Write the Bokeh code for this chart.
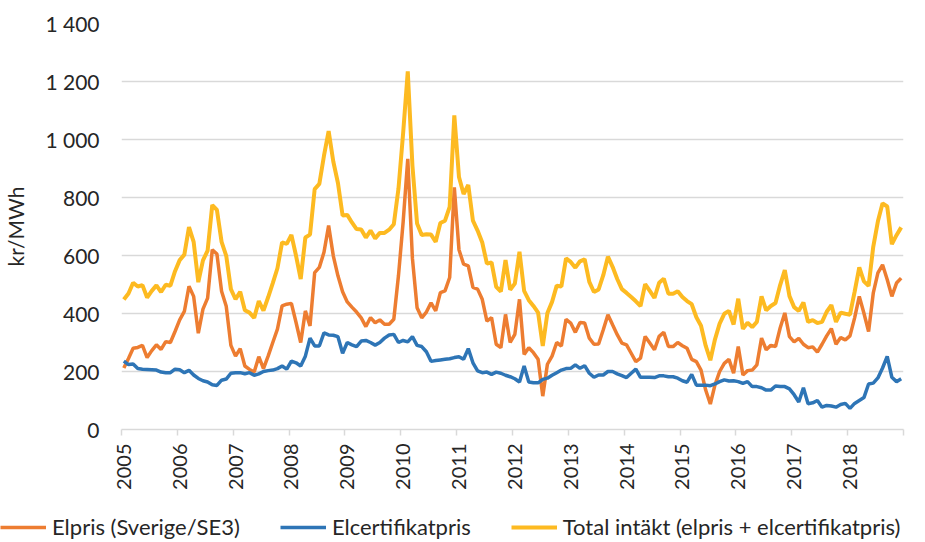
from math import pi
from bokeh.plotting import figure
from bokeh.models import Range1d, FixedTicker, Legend, LegendItem, ColumnDataSource
from bokeh.embed import file_html
from bokeh.resources import INLINE

# ---- data (monthly, Jan 2005 - Dec 2018), kr/MWh ----
year_labels = [str(y) for y in range(2005, 2019)]

elpris = [
    212, 245, 280, 283, 290, 248, 272, 292, 276, 303, 300, 338,   # 2005
    378, 407, 494, 459, 332, 415, 453, 620, 605, 477, 425, 290,   # 2006
    253, 279, 219, 207, 198, 251, 210, 253, 300, 346, 426, 432,   # 2007
    435, 369, 300, 409, 357, 541, 559, 611, 703, 599, 530, 475,   # 2008
    440, 422, 405, 385, 355, 386, 368, 378, 363, 363, 380, 530,   # 2009
    714, 933, 590, 420, 385, 405, 437, 409, 472, 478, 524, 835,   # 2010
    620, 570, 564, 490, 484, 449, 374, 386, 294, 282, 397, 300,   # 2011
    328, 449, 259, 282, 265, 242, 115, 225, 253, 300, 288, 380,   # 2012
    367, 335, 369, 367, 315, 294, 295, 344, 396, 361, 327, 298,   # 2013
    292, 263, 234, 246, 321, 298, 275, 321, 335, 286, 286, 300,   # 2014
    289, 280, 242, 234, 205, 136, 88, 154, 200, 228, 242, 194,    # 2015
    286, 188, 203, 205, 223, 315, 275, 290, 286, 350, 402, 320,   # 2016
    302, 314, 294, 282, 285, 267, 294, 323, 348, 294, 317, 309,   # 2017
    323, 385, 459, 401, 338, 470, 540, 568, 517, 459, 505, 522,   # 2018
]

elcert = [
    236, 224, 226, 210, 208, 207, 206, 205, 198, 196, 196, 208,   # 2005
    206, 196, 204, 188, 176, 168, 164, 154, 152, 170, 174, 194,   # 2006
    196, 196, 192, 196, 187, 192, 200, 203, 205, 210, 219, 208,   # 2007
    236, 230, 219, 253, 315, 288, 288, 333, 326, 325, 320, 263,   # 2008
    300, 292, 286, 305, 307, 300, 291, 300, 315, 326, 328, 300,   # 2009
    307, 302, 320, 290, 286, 268, 235, 238, 240, 242, 244, 248,   # 2010
    251, 242, 279, 230, 202, 196, 198, 190, 198, 194, 187, 182,   # 2011
    175, 164, 219, 164, 161, 161, 173, 177, 187, 196, 205, 210,   # 2012
    211, 223, 211, 220, 194, 180, 188, 188, 200, 200, 192, 186,   # 2013
    179, 194, 208, 180, 180, 180, 179, 185, 185, 182, 182, 177,   # 2014
    168, 163, 190, 153, 153, 153, 151, 157, 165, 171, 167, 168,   # 2015
    165, 159, 165, 148, 148, 144, 136, 136, 150, 148, 148, 140,   # 2016
    120, 95, 144, 89, 92, 100, 77, 83, 81, 77, 86, 90,            # 2017
    73, 90, 100, 110, 157, 160, 178, 212, 252, 180, 165, 175,     # 2018
]

y_ticks = [0, 200, 400, 600, 800, 1000, 1200, 1400]
y_tick_labels = ["0", "200", "400", "600", "800", "1 000", "1 200", "1 400"]

series_names = ["Elpris (Sverige/SE3)", "Elcertifikatpris",
                "Total intäkt (elpris + elcertifikatpris)"]
series_cols = ["elpris", "elcert", "total"]

# ---- build ----
n = len(elpris)
total = [a + b for a, b in zip(elpris, elcert)]
src = ColumnDataSource(dict(x=[i + 0.5 for i in range(n)],
                            elpris=elpris, elcert=elcert, total=total))

FONT = "Lato"
TXT = "#262626"
GRID = "#D9D9D9"
colors = ["#ED7D31", "#2E75B6", "#FDBA21"]
widths = [3.5, 3.5, 4]

p = figure(width=909, height=492, output_backend="svg", toolbar_location=None,
           x_range=Range1d(0, n), y_range=Range1d(0, 1400),
           min_border_left=114, min_border_right=6,
           min_border_top=23, min_border_bottom=63)

for col, c, w in zip(series_cols, colors, widths):
    p.line("x", col, source=src, line_color=c, line_width=w)

# x axis
xa = p.xaxis[0]
xa.ticker = FixedTicker(ticks=[12 * k + 0.5 for k in range(len(year_labels))],
                        minor_ticks=[12 * k for k in range(len(year_labels) + 1)])
xa.major_label_overrides = {12 * k + 0.5: lab for k, lab in enumerate(year_labels)}
xa.major_label_orientation = pi / 2
xa.major_tick_out = 0
xa.major_tick_in = 0
xa.minor_tick_out = 6
xa.minor_tick_in = 0
xa.minor_tick_line_color = GRID
xa.minor_tick_line_width = 1.5
xa.axis_line_color = GRID
xa.axis_line_width = 1.5
xa.major_label_text_font = FONT
xa.major_label_text_font_size = "20px"
xa.major_label_text_color = TXT
xa.major_label_standoff = 8

# y axis
ya = p.yaxis[0]
ya.ticker = FixedTicker(ticks=y_ticks)
ya.major_label_overrides = {t: lab for t, lab in zip(y_ticks, y_tick_labels)}
ya.axis_line_color = None
ya.major_tick_out = 0
ya.major_tick_in = 0
ya.minor_tick_line_color = None
ya.major_label_text_font = FONT
ya.major_label_text_font_size = "21px"
ya.major_label_text_color = TXT
ya.major_label_standoff = 22
ya.axis_label = "kr/MWh"
ya.axis_label_text_font = FONT
ya.axis_label_text_font_size = "21px"
ya.axis_label_text_font_style = "normal"
ya.axis_label_text_color = TXT
ya.axis_label_standoff = 14

p.xgrid.grid_line_color = None
p.ygrid.grid_line_color = GRID
p.ygrid.grid_line_width = 1.5
p.outline_line_color = None

# ---- legend strip: separate axis-less figure (own root, so its frame is full width) ----
lf = figure(width=909, height=48, output_backend="svg", toolbar_location=None,
            x_range=Range1d(0, 1), y_range=Range1d(-2, -1),
            x_axis_location=None, y_axis_location=None,
            min_border_left=0, min_border_right=0,
            min_border_top=0, min_border_bottom=0)
lf.grid.visible = False
lf.outline_line_color = None
items = []
for name, col, c, w in zip(series_names, series_cols, colors, widths):
    # same series, outside this strip's ranges: only the legend entry shows
    r = lf.line("x", col, source=src, line_color=c, line_width=w)
    items.append(LegendItem(label=name, renderers=[r]))
legend = Legend(items=items, location="bottom_left", orientation="horizontal")
legend.label_text_font = FONT
legend.label_text_font_size = "22px"
legend.label_text_color = TXT
legend.glyph_width = 46
legend.glyph_height = 20
legend.label_standoff = 6
legend.spacing = 40
legend.padding = 0
legend.margin = 0
legend.border_line_color = None
legend.background_fill_alpha = 0
lf.add_layout(legend, "center")

open("out.html", "w").write(file_html([p, lf], INLINE))
